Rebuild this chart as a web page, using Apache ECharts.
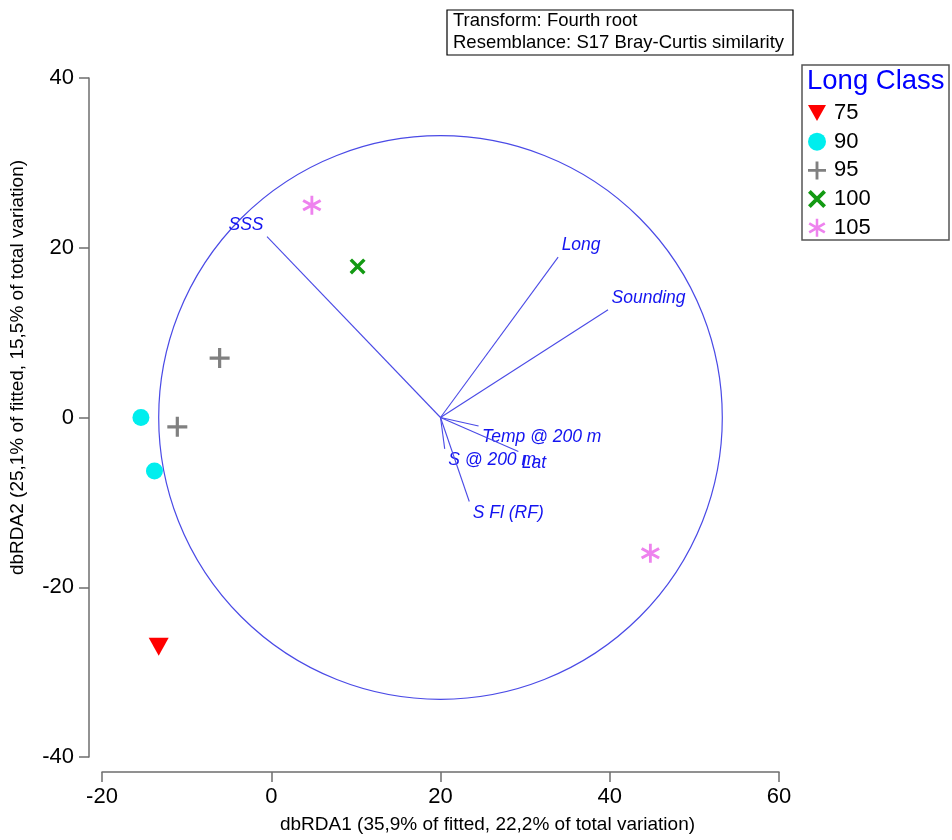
<!DOCTYPE html>
<html>
<head>
<meta charset="utf-8">
<title>dbRDA</title>
<script src="https://cdn.jsdelivr.net/npm/echarts@6/dist/echarts.min.js"></script>
<style>
  html, body { margin: 0; padding: 0; background: #fff; }
  #main { width: 952px; height: 840px; }
</style>
</head>
<body>
<div id="main"></div>
<script>
// classes and their points (dbRDA1, dbRDA2)
var classNames = ['75', '90', '95', '100', '105'];
var classX = [[-13.3], [-15.4, -13.8], [-11.1, -6.1], [10.2], [4.8, 44.8]];
var classY = [[-27.0], [0.0, -6.3], [-1.1, 7.0], [17.8], [25.0, -16.0]];

// predictor vectors, drawn from the centre of the circle
var vecNames = ['SSS', 'Long', 'Sounding', 'Temp @ 200 m', 'Lat', 'S @ 200 m', 'S Fl (RF)'];
var vecX = [-0.5, 33.9, 39.8, 24.5, 29.2, 20.5, 23.4];
var vecY = [21.3, 18.9, 12.7, -1.0, -4.0, -3.7, -9.9];
var circleCentre = [20, 0];
var circleRadius = 33.3;

var xTicks = [-20, 60, 20];   // min, max, interval
var yTicks = [-40, 40, 20];

var FONT = 'Liberation Sans, Arial, sans-serif';

var symbols = {
  '75': 'path://M0,0L20,0L10,18Z',
  '90': 'circle',
  '95': 'path://M8.4,0H11.6V8.4H20V11.6H11.6V20H8.4V11.6H0V8.4H8.4Z',
  '100': 'path://M4.2,1.66L18.34,15.8L15.8,18.34L1.66,4.2Z M1.66,15.8L15.8,1.66L18.34,4.2L4.2,18.34Z',
  '105': 'path://M8.6,0L11.4,0L11.4,20L8.6,20Z M2.09,3.7L19.41,13.7L17.91,16.3L0.59,6.3Z M0.59,13.7L17.91,3.7L19.41,6.3L2.09,16.3Z'
};
var colors = { '75': '#ff0000', '90': '#00eeee', '95': '#808080', '100': '#139a13', '105': '#ee82ee' };
var sizes = { '75': [20, 18], '90': 17, '95': 20, '100': 16, '105': 19 };

var series = [];

// circle
series.push({
  type: 'custom',
  silent: true,
  clip: false,
  data: [[circleCentre[0], circleCentre[1], circleRadius]],
  renderItem: function (params, api) {
    var c = api.coord([api.value(0), api.value(1)]);
    var r = api.size([api.value(2), 0])[0];
    return {
      type: 'circle',
      shape: { cx: c[0], cy: c[1], r: r },
      style: { fill: 'none', stroke: '#4a4ae6', lineWidth: 1.2 }
    };
  },
  z: 1
});

// vectors with labels
series.push({
  type: 'custom',
  silent: true,
  clip: false,
  encode: { x: [0, 2], y: [1, 3] },
  data: vecNames.map(function (n, i) {
    return [circleCentre[0], circleCentre[1], vecX[i], vecY[i], n];
  }),
  renderItem: function (params, api) {
    var p0 = api.coord([api.value(0), api.value(1)]);
    var p1 = api.coord([api.value(2), api.value(3)]);
    var name = vecNames[params.dataIndex];
    var right = p1[0] >= p0[0];
    var up = p1[1] < p0[1];
    return {
      type: 'group',
      children: [{
        type: 'line',
        shape: { x1: p0[0], y1: p0[1], x2: p1[0], y2: p1[1] },
        style: { stroke: '#4a4ae6', lineWidth: 1.1 }
      }, {
        type: 'text',
        style: {
          text: name,
          x: p1[0] + (right ? 3.5 : -3.5),
          y: p1[1] + (up ? -11.5 : 11.5),
          align: right ? 'left' : 'right',
          verticalAlign: 'middle',
          fill: '#1414f0',
          fontStyle: 'italic',
          fontSize: 17.5,
          fontFamily: FONT
        }
      }]
    };
  },
  z: 2
});

classNames.forEach(function (c, k) {
  series.push({
    name: c,
    type: 'scatter',
    symbol: symbols[c],
    symbolSize: sizes[c],
    itemStyle: { color: colors[c], opacity: 1 },
    data: classX[k].map(function (x, i) { return [x, classY[k][i]]; }),
    z: 3
  });
});

var chart = echarts.init(document.getElementById('main'));
chart.setOption({
  animation: false,
  backgroundColor: '#ffffff',
  grid: { left: 102, right: 173, top: 78, bottom: 83, containLabel: false },
  xAxis: {
    type: 'value',
    min: xTicks[0], max: xTicks[1], interval: xTicks[2],
    offset: 15,
    name: 'dbRDA1 (35,9% of fitted, 22,2% of total variation)',
    nameLocation: 'middle',
    nameGap: 43,
    nameTextStyle: { color: '#000', fontSize: 19, fontFamily: FONT, padding: [0, 0, 0, 94] },
    axisLine: { onZero: false, lineStyle: { color: '#6e6e6e', width: 1.5 } },
    axisTick: { length: 10, lineStyle: { color: '#6e6e6e', width: 1.5 } },
    axisLabel: { color: '#000', fontSize: 22, fontFamily: FONT, margin: 14 },
    splitLine: { show: false }
  },
  yAxis: {
    type: 'value',
    min: yTicks[0], max: yTicks[1], interval: yTicks[2],
    offset: 13,
    name: 'dbRDA2 (25,1% of fitted, 15,5% of total variation)',
    nameLocation: 'middle',
    nameGap: 62,
    nameTextStyle: { color: '#000', fontSize: 19, fontFamily: FONT, padding: [0, 0, 0, 100] },
    axisLine: { onZero: false, lineStyle: { color: '#6e6e6e', width: 1.5 } },
    axisTick: { length: 10, lineStyle: { color: '#6e6e6e', width: 1.5 } },
    axisLabel: { color: '#000', fontSize: 22, fontFamily: FONT, margin: 15 },
    splitLine: { show: false }
  },
  legend: {
    orient: 'vertical',
    left: 808,
    top: 102,
    padding: 0,
    itemWidth: 18,
    itemHeight: 18,
    itemGap: 6.7,
    data: classNames,
    textStyle: { color: '#000', fontSize: 22, fontFamily: FONT, padding: [0, 0, 0, 3] }
  },
  graphic: [
    {
      type: 'rect',
      shape: { x: 802, y: 65, width: 147, height: 175 },
      style: { fill: 'none', stroke: '#555', lineWidth: 1.5 }
    },
    {
      type: 'text',
      style: { text: 'Long Class', x: 807, y: 81, verticalAlign: 'middle', fill: '#0000ff', fontSize: 27.5, fontFamily: FONT }
    },
    {
      type: 'rect',
      shape: { x: 447, y: 10, width: 346, height: 45 },
      style: { fill: 'none', stroke: '#000', lineWidth: 1.2 }
    },
    {
      type: 'text',
      style: { text: 'Transform: Fourth root', x: 453, y: 21, verticalAlign: 'middle', fill: '#000', fontSize: 18.5, fontFamily: FONT }
    },
    {
      type: 'text',
      style: { text: 'Resemblance: S17 Bray-Curtis similarity', x: 453, y: 43, verticalAlign: 'middle', fill: '#000', fontSize: 18.5, fontFamily: FONT }
    }
  ],
  series: series
});
</script>
</body>
</html>
